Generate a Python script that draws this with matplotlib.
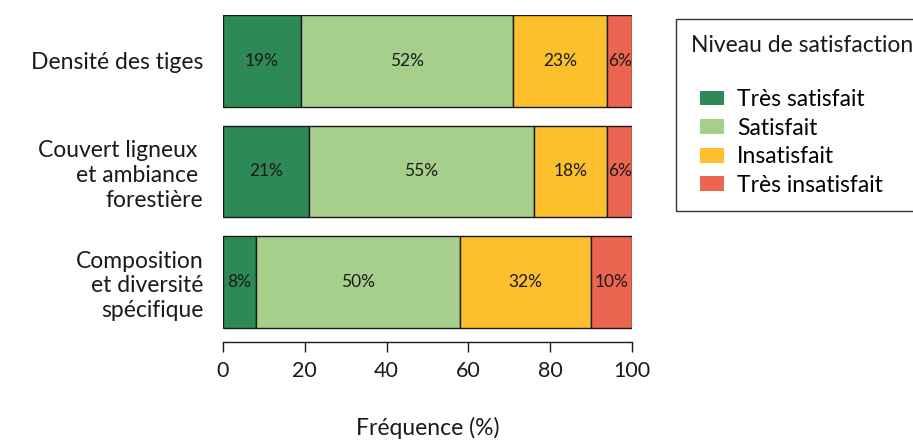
import matplotlib
matplotlib.use("Agg")
import matplotlib.pyplot as plt
from matplotlib.patches import Rectangle, Patch
import numpy as np

plt.rcParams['font.family'] = ['Lato', 'DejaVu Sans']

# donnees
categories = ['Densité des tiges', 'Couvert ligneux \net ambiance \nforestière',
              'Composition\net diversité\nspécifique']
niveaux = ['Très satisfait', 'Satisfait', 'Insatisfait', 'Très insatisfait']
tres_satisfait = [19, 21, 8]
satisfait = [52, 55, 50]
insatisfait = [23, 18, 32]
tres_insatisfait = [6, 6, 10]
couleurs = ['#2D8A57', '#A7CF8C', '#FBC02B', '#EC6550']

series = [tres_satisfait, satisfait, insatisfait, tres_insatisfait]

W, H = 913, 440
fig = plt.figure(figsize=(W / 100, H / 100), dpi=100)
ax = fig.add_axes([223 / W, 1 - 342 / H, 409 / W, 327 / H])

y = np.arange(len(categories))[::-1]
left = np.zeros(len(categories))
for vals, col in zip(series, couleurs):
    ax.barh(y, vals, left=left, height=0.83, color=col, edgecolor='#1a1a1a', linewidth=1)
    for yi, l, v in zip(y, left, vals):
        ax.text(l + v / 2, yi, f'{v}%', ha='center', va='center', fontsize=12.5, color='#1a1a1a')
    left += np.array(vals)

ax.set_xlim(0, 100)
ax.set_ylim(-0.543, 2.416)
ax.set_yticks(y)
ax.set_yticklabels(categories, fontsize=16.5, color='#1a1a1a', linespacing=1.22)
ax.tick_params(axis='y', length=0, pad=14)
ax.set_xticks([0, 20, 40, 60, 80, 100])
ax.tick_params(axis='x', labelsize=15.5, length=7, width=1, pad=7, colors='#1a1a1a')
for s in ['top', 'right', 'left']:
    ax.spines[s].set_visible(False)
ax.spines['bottom'].set_linewidth(1)
ax.spines['bottom'].set_color('#1a1a1a')
ax.set_xlabel('Fréquence (%)', fontsize=16.5, color='#1a1a1a')
ax.xaxis.set_label_coords(0.5, (342 - 428) / 327)
ax.xaxis.label.set_va('center')

# legende
fig.add_artist(Rectangle((676 / W, 1 - 211 / H), 250 / W, 192 / H, transform=fig.transFigure,
                         facecolor='white', edgecolor='#333333', linewidth=1))
fig.text(691 / W, 1 - 45 / H, 'Niveau de satisfaction', fontsize=16.5, va='center',
         ha='left', color='#1a1a1a')
handles = [Patch(facecolor=c, edgecolor='none') for c in couleurs]
fig.legend(handles, niveaux, loc='center left', bbox_to_anchor=(700 / W, 1 - 142.5 / H),
           frameon=False, fontsize=16.5, borderpad=0, borderaxespad=0,
           handlelength=1.05, handleheight=0.61, handletextpad=0.57, labelspacing=0.33)

fig.savefig('out.png', dpi=100)
